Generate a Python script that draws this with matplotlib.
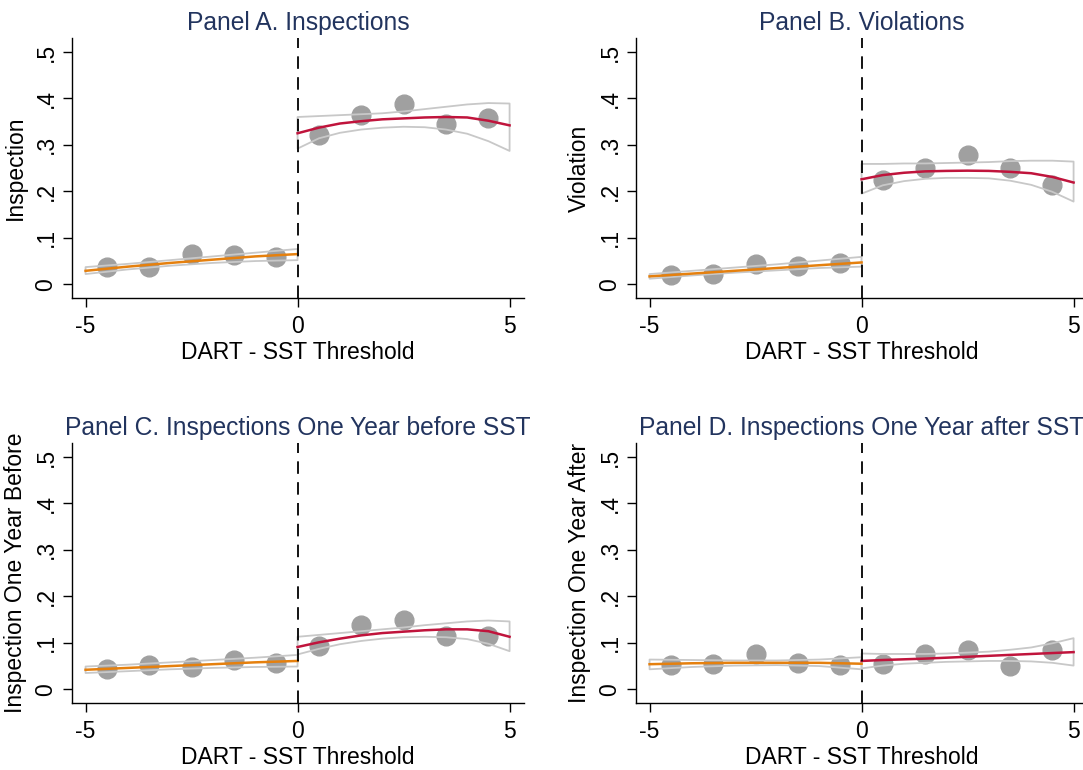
import numpy as np
import matplotlib
matplotlib.use('Agg')
import matplotlib.pyplot as plt

plt.rcParams['font.family'] = ['Liberation Sans', 'DejaVu Sans']
plt.rcParams['font.size'] = 16.5
plt.rcParams['lines.scale_dashes'] = False

bin_x = [-4.5, -3.5, -2.5, -1.5, -0.5, 0.5, 1.5, 2.5, 3.5, 4.5]
left_x = [-5, -4, -3, -2, -1, 0]
right_x = [0, 0.5, 1, 1.5, 2, 2.5, 3, 3.5, 4, 4.5, 5]

titles = ['Panel A. Inspections', 'Panel B. Violations',
          'Panel C. Inspections One Year before SST',
          'Panel D. Inspections One Year after SST']
ylabels = ['Inspection', 'Violation', 'Inspection One Year Before',
           'Inspection One Year After']
xlabel = 'DART - SST Threshold'
yticks = [0, 0.1, 0.2, 0.3, 0.4, 0.5]
ytick_labels = ['0', '.1', '.2', '.3', '.4', '.5']
xticks = [-5, 0, 5]

# Panel A
a_bins = [0.038, 0.038, 0.065, 0.062, 0.058, 0.321, 0.365, 0.387, 0.346, 0.357]
a_left_fit = [0.029, 0.038, 0.046, 0.053, 0.060, 0.065]
a_left_hi = [0.037, 0.044, 0.052, 0.060, 0.068, 0.076]
a_left_lo = [0.022, 0.032, 0.040, 0.046, 0.050, 0.052]
a_right_fit = [0.325, 0.337, 0.346, 0.351, 0.355, 0.357, 0.359, 0.360, 0.359, 0.352, 0.342]
a_right_hi = [0.360, 0.362, 0.364, 0.366, 0.368, 0.372, 0.377, 0.382, 0.387, 0.390, 0.389]
a_right_lo = [0.292, 0.314, 0.326, 0.333, 0.337, 0.339, 0.338, 0.333, 0.324, 0.308, 0.287]

# Panel B
b_bins = [0.020, 0.022, 0.043, 0.040, 0.045, 0.224, 0.251, 0.279, 0.251, 0.213]
b_left_fit = [0.017, 0.023, 0.029, 0.035, 0.041, 0.047]
b_left_hi = [0.022, 0.029, 0.036, 0.043, 0.051, 0.059]
b_left_lo = [0.012, 0.019, 0.025, 0.030, 0.035, 0.038]
b_right_fit = [0.226, 0.235, 0.240, 0.243, 0.244, 0.2445, 0.244, 0.242, 0.239, 0.231, 0.219]
b_right_hi = [0.259, 0.259, 0.260, 0.260, 0.261, 0.262, 0.263, 0.265, 0.266, 0.266, 0.264]
b_right_lo = [0.195, 0.213, 0.222, 0.227, 0.229, 0.229, 0.228, 0.223, 0.214, 0.199, 0.178]

# Panel C
c_bins = [0.043, 0.052, 0.047, 0.064, 0.057, 0.093, 0.138, 0.149, 0.115, 0.115]
c_left_fit = [0.042, 0.046, 0.050, 0.054, 0.058, 0.061]
c_left_hi = [0.049, 0.053, 0.058, 0.063, 0.068, 0.074]
c_left_lo = [0.035, 0.039, 0.043, 0.046, 0.048, 0.049]
c_right_fit = [0.091, 0.101, 0.109, 0.116, 0.121, 0.124, 0.127, 0.129, 0.129, 0.125, 0.113]
c_right_hi = [0.113, 0.117, 0.121, 0.125, 0.129, 0.133, 0.138, 0.142, 0.146, 0.148, 0.146]
c_right_lo = [0.075, 0.087, 0.097, 0.104, 0.109, 0.112, 0.113, 0.112, 0.108, 0.098, 0.082]

# Panel D
d_bins = [0.052, 0.054, 0.075, 0.057, 0.052, 0.054, 0.075, 0.085, 0.050, 0.085]
d_left_fit = [0.054, 0.056, 0.057, 0.057, 0.057, 0.055]
d_left_hi = [0.064, 0.063, 0.062, 0.062, 0.064, 0.069]
d_left_lo = [0.043, 0.048, 0.051, 0.052, 0.050, 0.043]
d_right_fit = [0.061, 0.063, 0.0645, 0.066, 0.068, 0.070, 0.072, 0.074, 0.076, 0.078, 0.080]
d_right_hi = [0.077, 0.076, 0.076, 0.076, 0.077, 0.079, 0.081, 0.085, 0.090, 0.099, 0.110]
d_right_lo = [0.045, 0.051, 0.055, 0.057, 0.059, 0.060, 0.061, 0.061, 0.060, 0.057, 0.051]

panels = [
    (a_bins, a_left_fit, a_left_lo, a_left_hi, a_right_fit, a_right_lo, a_right_hi),
    (b_bins, b_left_fit, b_left_lo, b_left_hi, b_right_fit, b_right_lo, b_right_hi),
    (c_bins, c_left_fit, c_left_lo, c_left_hi, c_right_fit, c_right_lo, c_right_hi),
    (d_bins, d_left_fit, d_left_lo, d_left_hi, d_right_fit, d_right_lo, d_right_hi),
]

dot_color = '#a0a0a0'
ci_color = '#c8c8c8'
left_color = '#e5800e'
right_color = '#c0143c'
title_color = '#22345e'

W, H = 1083, 770
fig = plt.figure(figsize=(W / 100, H / 100), dpi=100)

# axes rectangles in pixels: left, top, width, height
rects = [(72, 38, 452, 260), (636, 38, 452, 260),
         (72, 443, 452, 260), (636, 443, 452, 260)]

for i, (rect, data) in enumerate(zip(rects, panels)):
    l, t, w, h = rect
    ax = fig.add_axes([l / W, (H - t - h) / H, w / W, h / H])
    bins, lf, llo, lhi, rf, rlo, rhi = data

    ax.plot(bin_x, bins, 'o', color=dot_color, markersize=13.5, zorder=2)
    ax.fill_between(left_x, llo, lhi, facecolor='none', edgecolor=ci_color,
                    linewidth=1.3, zorder=3)
    ax.fill_between(right_x, rlo, rhi, facecolor='none', edgecolor=ci_color,
                    linewidth=1.3, zorder=3)
    ax.plot(left_x, lf, color=left_color, linewidth=1.8, zorder=4)
    ax.plot(right_x, rf, color=right_color, linewidth=1.8, zorder=4)
    ax.axvline(0, color='black', linewidth=1.3, linestyle=(0, (9, 6)), zorder=5)

    ax.set_xlim(-5.32, 5.34)
    ax.set_ylim(-0.0295, 0.530)
    ax.set_xticks(xticks)
    ax.set_xticklabels(['-5', '0', '5'])
    ax.set_yticks(yticks)
    ax.set_yticklabels(ytick_labels)
    ax.tick_params(axis='both', direction='out', length=6.5, width=1.0, colors='black')
    ax.tick_params(axis='y', labelrotation=90, pad=4)
    ax.tick_params(axis='x', pad=6)
    for lab in ax.get_yticklabels():
        lab.set_verticalalignment('center')
    for side in ['top', 'right']:
        ax.spines[side].set_visible(False)
    for side in ['left', 'bottom']:
        ax.spines[side].set_linewidth(1.0)

    ax.set_title(titles[i], color=title_color, pad=6, fontsize=17.7)
    ax.set_xlabel(xlabel, labelpad=2)
    ax.set_ylabel(ylabels[i])
    ax.yaxis.set_label_coords(-0.10, 0.5)

fig.savefig('out.png', dpi=100)
